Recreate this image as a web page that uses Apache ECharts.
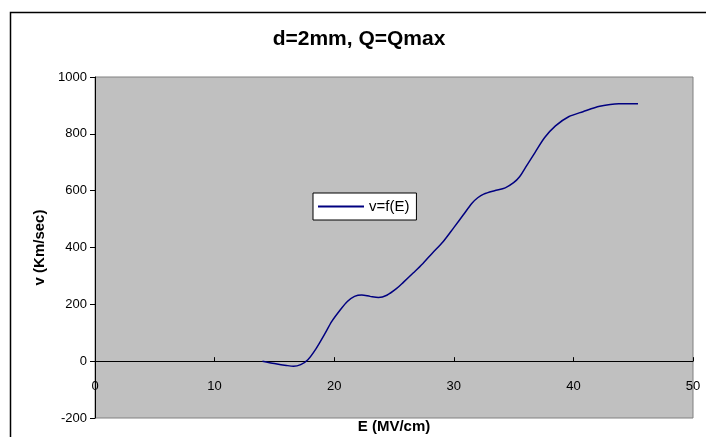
<!DOCTYPE html>
<html>
<head>
<meta charset="utf-8">
<script src="https://cdn.jsdelivr.net/npm/echarts@6/dist/echarts.min.js"></script>
<style>html,body{margin:0;padding:0;background:#fff}#c{width:706px;height:437px}</style>
</head>
<body>
<div id="c"></div>
<script>
var titleText = 'd=2mm, Q=Qmax';
var seriesName = 'v=f(E)';
var xName = 'E (MV/cm)';
var yName = 'v (Km/sec)';
var eValues = [14.0,15.0,16.0,16.6,17.2,17.8,18.5,19.2,19.8,20.5,21.1,21.7,22.3,23.0,23.7,24.4,25.2,25.8,26.6,27.4,28.2,29.1,30.0,30.8,31.5,32.0,32.5,33.4,34.3,35.0,35.5,36.0,36.8,37.6,38.5,39.6,40.8,42.2,43.8,45.4];
var vValues = [0,-8,-15,-18,-12,5,45,95,140,180,210,228,233,228,224,232,255,278,310,343,380,420,470,515,555,575,588,600,610,628,649,682,735,787,828,860,878,897,906,906];
var xTicks = [0,10,20,30,40,50];
var yTicks = [-200,0,200,400,600,800,1000];

var data = eValues.map(function(e,i){return [e, vValues[i]];});
var chart = echarts.init(document.getElementById('c'), null, {renderer:'canvas'});
var font = 'Liberation Sans, Arial, sans-serif';
chart.setOption({
  animation:false,
  backgroundColor:'#ffffff',
  title:{text:titleText,left:354,textAlign:'center',top:24,textStyle:{fontFamily:font,fontWeight:'bold',fontSize:21,color:'#000'}},
  graphic:[{type:'rect',shape:{x:10.5,y:12.5,width:720,height:460},style:{fill:'none',stroke:'#000',lineWidth:1.5},silent:true,z:-1}],
  legend:{data:[seriesName],left:313,top:193,orient:'vertical',backgroundColor:'#fff',borderColor:'#000',borderWidth:1,padding:[6,7,6,5],itemWidth:46,itemHeight:2,itemGap:0,
    textStyle:{fontFamily:font,fontSize:15,color:'#000'},icon:'rect'},
  grid:{left:95,top:77,width:598,height:341,containLabel:false,outerBoundsMode:'none',show:true,backgroundColor:'#c0c0c0',borderColor:'#808080',borderWidth:1},
  xAxis:{type:'value',min:xTicks[0],max:xTicks[xTicks.length-1],interval:10,name:xName,nameLocation:'middle',nameGap:1,
    nameTextStyle:{fontFamily:font,fontWeight:'bold',fontSize:15,color:'#000'},
    axisLine:{onZero:true,lineStyle:{color:'#000',width:1}},
    axisTick:{inside:true,length:4,lineStyle:{color:'#000'}},
    axisLabel:{margin:-38,fontFamily:font,fontSize:13,color:'#000'},
    splitLine:{show:false}},
  yAxis:{type:'value',min:yTicks[0],max:yTicks[yTicks.length-1],interval:200,name:yName,nameLocation:'middle',nameGap:47,
    nameTextStyle:{fontFamily:font,fontWeight:'bold',fontSize:15,color:'#000'},
    axisLine:{show:true,onZero:false,lineStyle:{color:'#000',width:1}},
    axisTick:{show:true,length:5,lineStyle:{color:'#000'}},
    axisLabel:{margin:8,fontFamily:font,fontSize:13,color:'#000',formatter:function(v){return String(v);}},
    splitLine:{show:false}},
  series:[{name:seriesName,type:'line',data:data,smooth:0.3,showSymbol:false,symbol:'none',
    lineStyle:{color:'#000080',width:1.5},itemStyle:{color:'#000080'}}]
});
</script>
</body>
</html>
